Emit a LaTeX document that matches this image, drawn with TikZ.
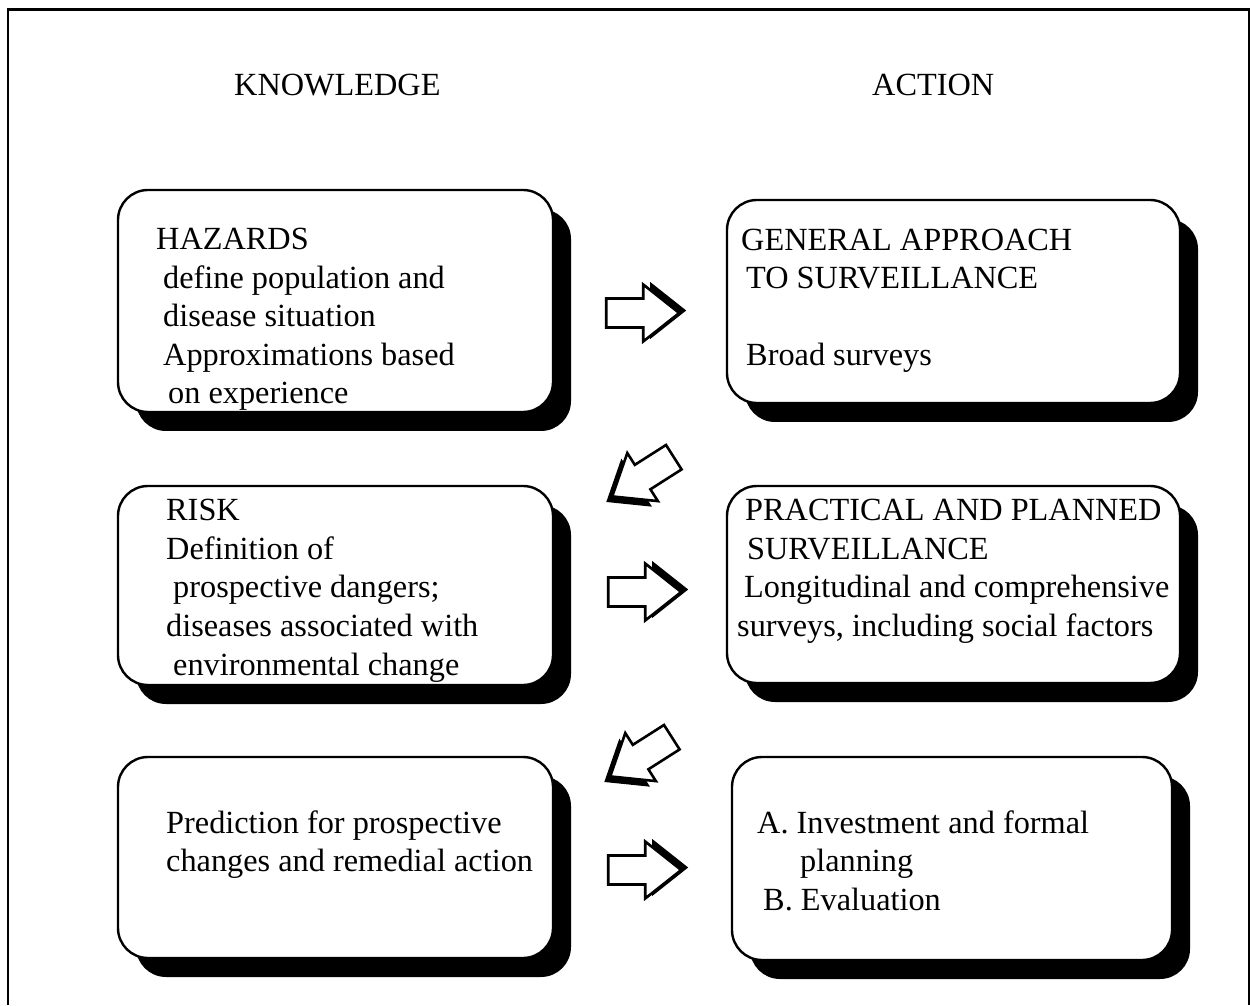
\documentclass[tikz,border=0pt]{standalone}
\usepackage{fontspec}
\setmainfont{Liberation Serif}
\usetikzlibrary{shadows,calc}
\begin{document}
\begin{tikzpicture}[x=1pt,y=1pt,
  stagebox/.style={draw=black, line width=2.4pt, fill=white, rounded corners=30pt,
    inner sep=0pt, general shadow={fill=black, shadow xshift=18pt, shadow yshift=-19pt}},
  txt/.style={anchor=base west, inner sep=0pt, font=\fontsize{32.3}{38.5}\selectfont},
  pics/blockarrow/.style={code={
    % bevelled edge of the arrow head
    \fill[black, shift={#1}] (37,-28.5) -- (73,0) -- (37,28.5) -- cycle;
    \filldraw[fill=white, draw=black, line width=2.6pt, line join=miter]
      (0,-14.5) -- (37,-14.5) -- (37,-28.5) -- (73,0) -- (37,28.5)
      -- (37,14.5) -- (0,14.5) -- cycle;
  }}
]
\useasboundingbox (0,0) rectangle (1250,1005);

% outer frame (open at the bottom)
\draw[line width=2pt] (8,0) -- (8,995);
\draw[line width=3pt] (7,995) -- (1249.5,995);
\draw[line width=2pt] (1248.5,996) -- (1248.5,0);

% column headings
\node[txt] (hk) at (234,909) {KNOWLEDGE};
\node[txt] (ha) at (872,909) {ACTION};

% stage boxes
\node[stagebox, minimum width=435pt, minimum height=222pt] (b1) at (335.5,704) {};
\node[stagebox, minimum width=453pt, minimum height=203pt] (b2) at (953.5,703.5) {};
\node[stagebox, minimum width=435pt, minimum height=199pt] (b3) at (335.5,419.5) {};
\node[stagebox, minimum width=453pt, minimum height=197pt] (b4) at (953.5,420.5) {};
\node[stagebox, minimum width=435pt, minimum height=201pt] (b5) at (335.5,147.5) {};
\node[stagebox, minimum width=440pt, minimum height=203pt] (b6) at (952,146.5) {};

% box texts
\foreach \x/\y/\t [count=\i] in {156/250/HAZARDS, 163/288.5/define population and,
    163/327/disease situation, 163/365.5/Approximations based, 168/404/on experience}
  \node[txt] (l1-\i) at (\x,1005-\y) {\t};
\foreach \x/\y/\t [count=\i] in {741/251/GENERAL APPROACH, 746/289/TO SURVEILLANCE,
    746/366/Broad surveys}
  \node[txt] (l2-\i) at (\x,1005-\y) {\t};
\foreach \x/\y/\t [count=\i] in {166/521/RISK, 166/559.5/Definition of,
    173/598/{prospective dangers;}, 166/636.5/diseases associated with,
    173/675/environmental change}
  \node[txt] (l3-\i) at (\x,1005-\y) {\t};
\foreach \x/\y/\t [count=\i] in {745/521/PRACTICAL AND PLANNED, 747/560/SURVEILLANCE,
    744/598/Longitudinal and comprehensive, 737/637/{surveys, including social factors}}
  \node[txt] (l4-\i) at (\x,1005-\y) {\t};
\foreach \x/\y/\t [count=\i] in {166/833/Prediction for prospective,
    166/871/changes and remedial action}
  \node[txt] (l5-\i) at (\x,1005-\y) {\t};
\foreach \x/\y/\t [count=\i] in {757/833/A. Investment and formal, 800/871/planning,
    763/910/B. Evaluation}
  \node[txt] (l6-\i) at (\x,1005-\y) {\t};

% block arrows between the stages
\coordinate (r1) at ($(b1.east)+(52,-12)$);
\coordinate (r2) at ($(b3.east)+(54,-6.5)$);
\coordinate (r3) at ($(b5.east)+(54,-12.5)$);
\coordinate (d1) at ($(b2.south west)+(-52,-53)$);
\coordinate (d2) at ($(b4.south west)+(-54,-53)$);
\pic at (r1) {blockarrow={(7,2.5)}};
\pic at (r2) {blockarrow={(7,2.5)}};
\pic at (r3) {blockarrow={(7,2.5)}};
\pic[rotate=212.5] at (d1) {blockarrow={(8,1.5)}};
\pic[rotate=212.5] at (d2) {blockarrow={(8,1.5)}};
\end{tikzpicture}
\end{document}
